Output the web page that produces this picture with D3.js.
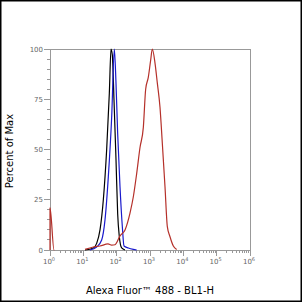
<!DOCTYPE html>
<html><head><meta charset="utf-8">
<script src="https://cdn.jsdelivr.net/npm/d3@7"></script>
<style>html,body{margin:0;padding:0;background:#fff;}svg{display:block;}</style>
</head><body>
<svg id="c" width="302" height="302"></svg>
<script>
// log10 of fluorescence, percent of max (null = gap in the trace)
const redLog = [0, 0.001, 0.12, 0.13, null, 1.05, 1.3, 1.5, 1.74, 1.85, 1.95, 2.1, 2.25, 2.4, 2.5, 2.6, 2.7, 2.8, 2.87, 2.95, 3.02, 3.07, 3.15, 3.22, 3.3, 3.37, 3.45, 3.52, 3.6, 3.7, 3.8];
const redVal = [0, 21, 0, 0, null, 0.3, 1.5, 2, 3, 2.4, 2.6, 7, 10, 18.4, 26.5, 38, 51, 61, 80, 86, 94.5, 100, 93, 83, 71, 53, 31.5, 11.6, 6.6, 2, 0.3];
const blackLog = [1.05, 1.3, 1.4, 1.5, 1.6, 1.7, 1.78, 1.83, 1.87, 1.92, 1.98, 2.03, 2.08, 2.15, 2.25];
const blackVal = [0, 1, 3.3, 10, 25, 50, 78, 100, 97, 74.6, 45, 18, 6.6, 1, 0];
const blueLog = [1.2, 1.4, 1.55, 1.65, 1.75, 1.85, 1.93, 1.98, 2.03, 2.1, 2.17, 2.22, 2.35, 2.5, 2.6];
const blueVal = [0, 1.5, 5, 15, 36.5, 66, 100, 83, 58, 31.5, 11.6, 2, 1, 0.3, 0];
const yTicks = [0, 25, 50, 75, 100];
const xExps = [0, 1, 2, 3, 4, 5, 6];
const xTitle = "Alexa Fluor\u2122 488 - BL1-H";
const yTitle = "Percent of Max";

const svg = d3.select("#c");
svg.append("rect").attr("x",0.75).attr("y",0.75).attr("width",300.5).attr("height",300.5)
  .attr("fill","#fff").attr("stroke","#000").attr("stroke-width",1.5);

const L=50, R=250, T=49, B=250;
const x = d3.scaleLog().domain([1, 1e6]).range([L, R]);
const y = d3.scaleLinear().domain([0, 100]).range([B, T]);
const axc = "#999";

svg.append("rect").attr("x",L).attr("y",T).attr("width",R-L).attr("height",B-T)
  .attr("fill","none").attr("stroke",axc).attr("stroke-width",1).attr("shape-rendering","crispEdges");

const gy = svg.append("g").attr("shape-rendering","crispEdges");
d3.range(0, 101, 5).forEach(v => {
  const major = v % 25 === 0;
  gy.append("line").attr("x1", major ? L-6 : L-3).attr("x2", L).attr("y1", y(v)).attr("y2", y(v)).attr("stroke", axc);
});
svg.selectAll(".yl").data(yTicks).enter().append("text")
  .attr("x", L-7).attr("y", d=>y(d)+2.5).attr("text-anchor","end")
  .attr("font-family","DejaVu Sans, sans-serif").attr("font-size",7).attr("fill","#666").text(d=>d);

const gx = svg.append("g").attr("shape-rendering","crispEdges");
xExps.forEach(e => {
  gx.append("line").attr("x1", x(10**e)).attr("x2", x(10**e)).attr("y1", B).attr("y2", B+6).attr("stroke", axc);
  if (e < 6) for (let k=2;k<10;k++) {
    const xv = x(k*10**e);
    gx.append("line").attr("x1", xv).attr("x2", xv).attr("y1", B).attr("y2", B+3).attr("stroke", axc);
  }
});
const xl = svg.selectAll(".xl").data(xExps).enter().append("text")
  .attr("x", d=>x(10**d)-1).attr("y", B+14).attr("text-anchor","middle")
  .attr("font-family","DejaVu Sans, sans-serif").attr("font-size",7).attr("fill","#666");
xl.append("tspan").text("10");
xl.append("tspan").attr("dy",-3).attr("font-size",5).text(d=>d);

const line = d3.line().defined(d=>d[0]!==null && d[1]!==null)
  .x(d=>x(10**d[0])).y(d=>y(d[1])).curve(d3.curveMonotoneX);
function draw(lx, vy, color){
  svg.append("path").datum(lx.map((v,i)=>[v, vy[i]]))
    .attr("d", line).attr("fill","none").attr("stroke",color).attr("stroke-width",1.2);
}
draw(blackLog, blackVal, "#000");
draw(blueLog, blueVal, "#1a1acc");
draw(redLog, redVal, "#b5302a");

svg.append("text").attr("x",150).attr("y",294).attr("text-anchor","middle")
  .attr("font-family","DejaVu Sans, sans-serif").attr("font-size",10).attr("fill","#000").text(xTitle);
svg.append("text").attr("transform","translate(13,151) rotate(-90)").attr("text-anchor","middle")
  .attr("font-family","DejaVu Sans, sans-serif").attr("font-size",10).attr("fill","#000").text(yTitle);
</script>
</body></html>
